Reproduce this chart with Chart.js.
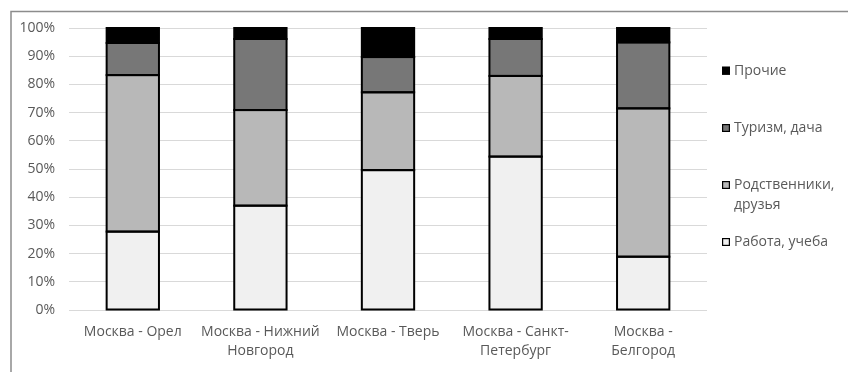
<!DOCTYPE html>
<html lang="ru">
<head>
<meta charset="utf-8">
<title>Цели поездок по направлениям</title>
<script src="https://cdn.jsdelivr.net/npm/chart.js@4/dist/chart.umd.min.js"></script>
<style>
  html, body { margin: 0; padding: 0; background: #ffffff; }
  #wrap { position: relative; width: 848px; height: 372px; }
</style>
</head>
<body>
<div id="wrap"><canvas id="chart" width="848" height="372"></canvas></div>
<script>
// Направления (подписи категорий, переносы строк как на оси)
const routes = [
  'Москва - Орел',
  ['Москва - Нижний', 'Новгород'],
  'Москва - Тверь',
  ['Москва - Санкт-', 'Петербург'],
  ['Москва -', 'Белгород']
];

// Доли целей поездок, %
const workStudy = [27.8, 37.0, 49.6, 54.4, 18.9];
const relativesFriends = [55.5, 33.9, 27.6, 28.6, 52.6];
const tourismDacha = [11.4, 25.2, 12.5, 13.1, 23.4];
const otherPurposes = [5.3, 3.9, 10.3, 3.9, 5.1];

// Метки оси значений
const percentTicks = [0, 10, 20, 30, 40, 50, 60, 70, 80, 90, 100];

const seriesNames = ['Работа, учеба', 'Родственники,\nдрузья', 'Туризм, дача', 'Прочие'];

const FONT = '"Open Sans", "DejaVu Sans", sans-serif';
const TEXT_COLOR = '#595959';

// Рамка области диаграммы (левая и верхняя стороны)
const framePlugin = {
  id: 'frame',
  beforeDraw(chart) {
    const ctx = chart.ctx;
    ctx.save();
    ctx.strokeStyle = '#8c8c8c';
    ctx.lineWidth = 1.5;
    ctx.beginPath();
    ctx.moveTo(11, chart.height);
    ctx.lineTo(11, 11.5);
    ctx.lineTo(chart.width, 11.5);
    ctx.stroke();
    ctx.restore();
  }
};

// Контур каждого сегмента столбца, линия по центру края
const segmentOutline = {
  id: 'segmentOutline',
  afterDatasetsDraw(chart, args, opts) {
    const ctx = chart.ctx;
    ctx.save();
    ctx.strokeStyle = opts.color;
    ctx.lineWidth = opts.width;
    chart.data.datasets.forEach((ds, di) => {
      const meta = chart.getDatasetMeta(di);
      meta.data.forEach(bar => {
        const p = bar.getProps(['x', 'y', 'base', 'width'], true);
        const left = p.x - p.width / 2;
        const top = Math.min(p.y, p.base);
        const h = Math.abs(p.base - p.y);
        ctx.strokeRect(left, top, p.width, h);
      });
    });
    ctx.restore();
  }
};

// Легенда справа, в обратном порядке рядов
const sideLegend = {
  id: 'sideLegend',
  afterDraw(chart, args, opts) {
    const ctx = chart.ctx;
    const sets = chart.data.datasets.slice().reverse();
    ctx.save();
    ctx.font = `${opts.fontSize}px ${FONT}`;
    ctx.textBaseline = 'middle';
    ctx.textAlign = 'left';
    sets.forEach((ds, i) => {
      const cy = opts.rows[i];
      const s = opts.box;
      ctx.fillStyle = ds.backgroundColor;
      ctx.fillRect(opts.x, cy - s / 2, s, s);
      ctx.strokeStyle = '#000000';
      ctx.lineWidth = 1.2;
      ctx.strokeRect(opts.x + 0.6, cy - s / 2 + 0.6, s - 1.2, s - 1.2);
      ctx.fillStyle = TEXT_COLOR;
      ds.label.split('\n').forEach((line, k) => {
        ctx.fillText(line, opts.x + s + 4, cy + k * opts.lineGap);
      });
    });
    ctx.restore();
  }
};

function makeSet(label, values, color) {
  return {
    label: label,
    data: values,
    backgroundColor: color,
    borderWidth: 0,
    inflateAmount: 0,
    barPercentage: 0.41,
    categoryPercentage: 1.0
  };
}

new Chart(document.getElementById('chart'), {
  type: 'bar',
  data: {
    labels: routes,
    datasets: [
      makeSet(seriesNames[0], workStudy, '#f0f0f0'),
      makeSet(seriesNames[1], relativesFriends, '#b8b8b8'),
      makeSet(seriesNames[2], tourismDacha, '#777777'),
      makeSet(seriesNames[3], otherPurposes, '#000000')
    ]
  },
  options: {
    responsive: false,
    animation: false,
    events: [],
    layout: { padding: { left: 0, right: 141, top: 28, bottom: 0 } },
    plugins: {
      legend: { display: false },
      tooltip: { enabled: false },
      segmentOutline: { color: '#000000', width: 2 },
      sideLegend: { x: 722, box: 8, fontSize: 14, lineGap: 20, rows: [70.7, 128, 185, 242] }
    },
    scales: {
      x: {
        stacked: true,
        grid: { display: false, drawTicks: false },
        border: { display: false },
        ticks: {
          color: TEXT_COLOR,
          font: { family: FONT, size: 14, lineHeight: 1.4 },
          padding: 12,
          maxRotation: 0,
          autoSkip: false
        },
        afterFit(scale) { scale.height = 62; }
      },
      y: {
        stacked: true,
        min: percentTicks[0],
        max: percentTicks[percentTicks.length - 1],
        grid: { color: '#d9d9d9', lineWidth: 1, drawTicks: false },
        border: { display: false },
        afterBuildTicks(scale) {
          scale.ticks = percentTicks.map(v => ({ value: v }));
        },
        ticks: {
          color: TEXT_COLOR,
          font: { family: FONT, size: 14 },
          padding: 14,
          callback: v => v + '%'
        },
        afterFit(scale) { scale.width = 69; }
      }
    }
  },
  plugins: [framePlugin, segmentOutline, sideLegend]
});
</script>
</body>
</html>
